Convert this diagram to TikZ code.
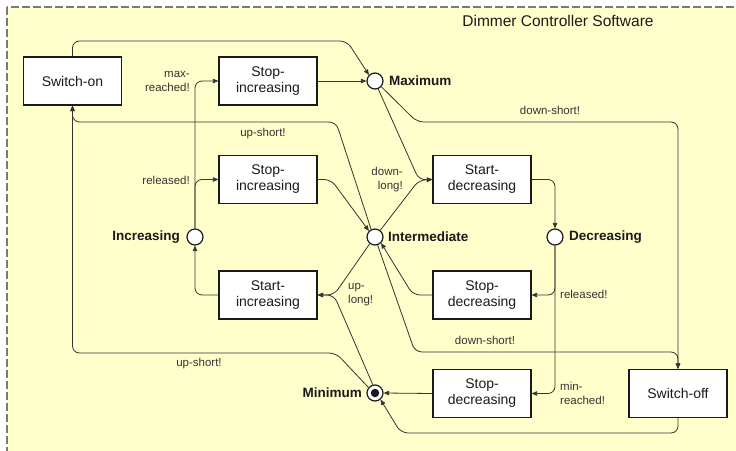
\documentclass[tikz,border=0pt]{standalone}
\usepackage{fontspec}
\setmainfont{Liberation Sans}
\usetikzlibrary{arrows.meta}
\definecolor{panel}{HTML}{FFFFCC}
\definecolor{framegray}{HTML}{7A7A7A}
\definecolor{wire}{HTML}{333333}
\definecolor{ink}{HTML}{1A1A1A}
\tikzset{
  statebox/.style={draw=ink, line width=1.2pt, fill=white, minimum width=98pt,
    minimum height=48pt, align=center, inner sep=0pt, text=ink,
    font=\fontsize{14}{16}\selectfont},
  pseudo/.style={circle, draw=ink, line width=1.2pt, fill=white,
    minimum size=16pt, inner sep=0pt},
  wirearrow/.style={draw=wire, line width=0.8pt, rounded corners=7pt,
    -{Triangle[length=5.5pt,width=4.5pt]}},
  wireplain/.style={draw=wire, line width=0.8pt, rounded corners=7pt},
  evt/.style={text=wire, inner sep=0pt, font=\fontsize{11.5}{14}\selectfont},
  plabel/.style={text=ink, inner sep=0pt, font=\fontsize{13.5}{16}\selectfont\bfseries},
}
\begin{document}
\begin{tikzpicture}[x=1pt, y=-1pt]
  \useasboundingbox (0,0) rectangle (736,450);
  \clip (0,0) rectangle (736,450);
  % enclosing component frame
  \draw[fill=panel, draw=framegray, line width=1.3pt, dash pattern=on 8pt off 3pt]
    (7,7) rectangle (760,470);
  \node[font=\fontsize{15.5}{18}\selectfont, text=ink] (title) at (558,21) {Dimmer Controller Software};

  % states
  \node[statebox] (son)  at (72.5,81)  {Switch-on};
  \node[statebox] (sti1) at (268,81)   {Stop-\\increasing};
  \node[statebox] (sti2) at (268,179.5){Stop-\\increasing};
  \node[statebox] (sti3) at (268,295)  {Start-\\increasing};
  \node[statebox] (std)  at (482,179.5){Start-\\decreasing};
  \node[statebox] (spd1) at (482,295)  {Stop-\\decreasing};
  \node[statebox] (spd2) at (482,393.5){Stop-\\decreasing};
  \node[statebox] (soff) at (678,393.5){Switch-off};

  % pseudo states
  \node[pseudo] (cmax) at (375,81) {};
  \node[pseudo] (cint) at (375,237) {};
  \node[pseudo] (cdec) at (555,237) {};
  \node[pseudo] (cinc) at (195,237) {};
  \node[pseudo] (cmin) at (375,393) {};
  \node[circle, fill=ink, minimum size=8.5pt, inner sep=0pt] (cmindot) at (cmin) {};

  \node[plabel, anchor=west] (lmax) at (389,81) {Maximum};
  \node[plabel, anchor=west] (lint) at (388,237) {Intermediate};
  \node[plabel, anchor=west] (ldec) at (569,237) {Decreasing};
  \node[plabel, anchor=east] (linc) at (180,237) {Increasing};
  \node[plabel, anchor=east] (lmin) at (362,393) {Minimum};

  % transitions
  \draw[wirearrow] (son.north) -- (72.5,41) -- (347,41) -- (cmax.north west);
  \draw[wirearrow] (sti1.east) -- (cmax.west);
  \draw[wirearrow] (cmax.-68) -- (419,180) -- (std.west);
  \draw[wirearrow] (cint.52) -- (419,180) -- (std.west);
  \draw[wirearrow] (cmax.-42) -- (417,122) -- (678,122) -- (soff.north);
  \draw[wirearrow] (std.east) -- (555,179.5) -- (cdec.north);
  \draw[wirearrow] (cdec.south) -- (555,295) -- (spd1.east);
  \draw[wirearrow] (cdec.south) -- (555,393.5) -- (spd2.east);
  \draw[wirearrow] (spd1.west) -- (413,295) -- (cint.-45);
  \draw[wirearrow] (cint.-72) -- (415,352) -- (678,352) -- (soff.north);
  \draw[wirearrow] (soff.south) -- (678,433) -- (401,433) -- (cmin.-50);
  \draw[wirearrow] (spd2.west) -- (cmin.east);
  \draw[wirearrow] (cmin.140) -- (336,353) -- (72.5,353) -- (son.south);
  \draw[wirearrow] (cmin.105) -- (334,295) -- (sti3.east);
  \draw[wirearrow] (cint.-128) -- (334,295) -- (sti3.east);
  \draw[wirearrow] (sti3.west) -- (195,295) -- (cinc.south);
  \draw[wirearrow] (cinc.north) -- (195,179.5) -- (sti2.west);
  \draw[wirearrow] (cinc.north) -- (195,81) -- (sti1.west);
  \draw[wirearrow] (sti2.east) -- (331,179.5) -- (cint.north west);
  \draw[wirearrow] (cint.117) -- (336,122) -- (72.5,122) -- (son.south);

  % event labels
  \node[evt, align=right, anchor=east] (emax) at (190,81) {max-\\reached!};
  \node[evt, anchor=east] (erel1) at (190,180) {released!};
  \node[evt] (eups1) at (263,134) {up-short!};
  \node[evt] (eups2) at (199,364) {up-short!};
  \node[evt, align=left, anchor=west] (eupl) at (348,295) {up-\\long!};
  \node[evt, align=right, anchor=east] (edl) at (403,180) {down-\\long!};
  \node[evt] (eds1) at (550,110) {down-short!};
  \node[evt] (eds2) at (485,340) {down-short!};
  \node[evt, anchor=west] (erel2) at (560,294) {released!};
  \node[evt, align=left, anchor=west] (emin) at (560,393) {min-\\reached!};
\end{tikzpicture}
\end{document}
